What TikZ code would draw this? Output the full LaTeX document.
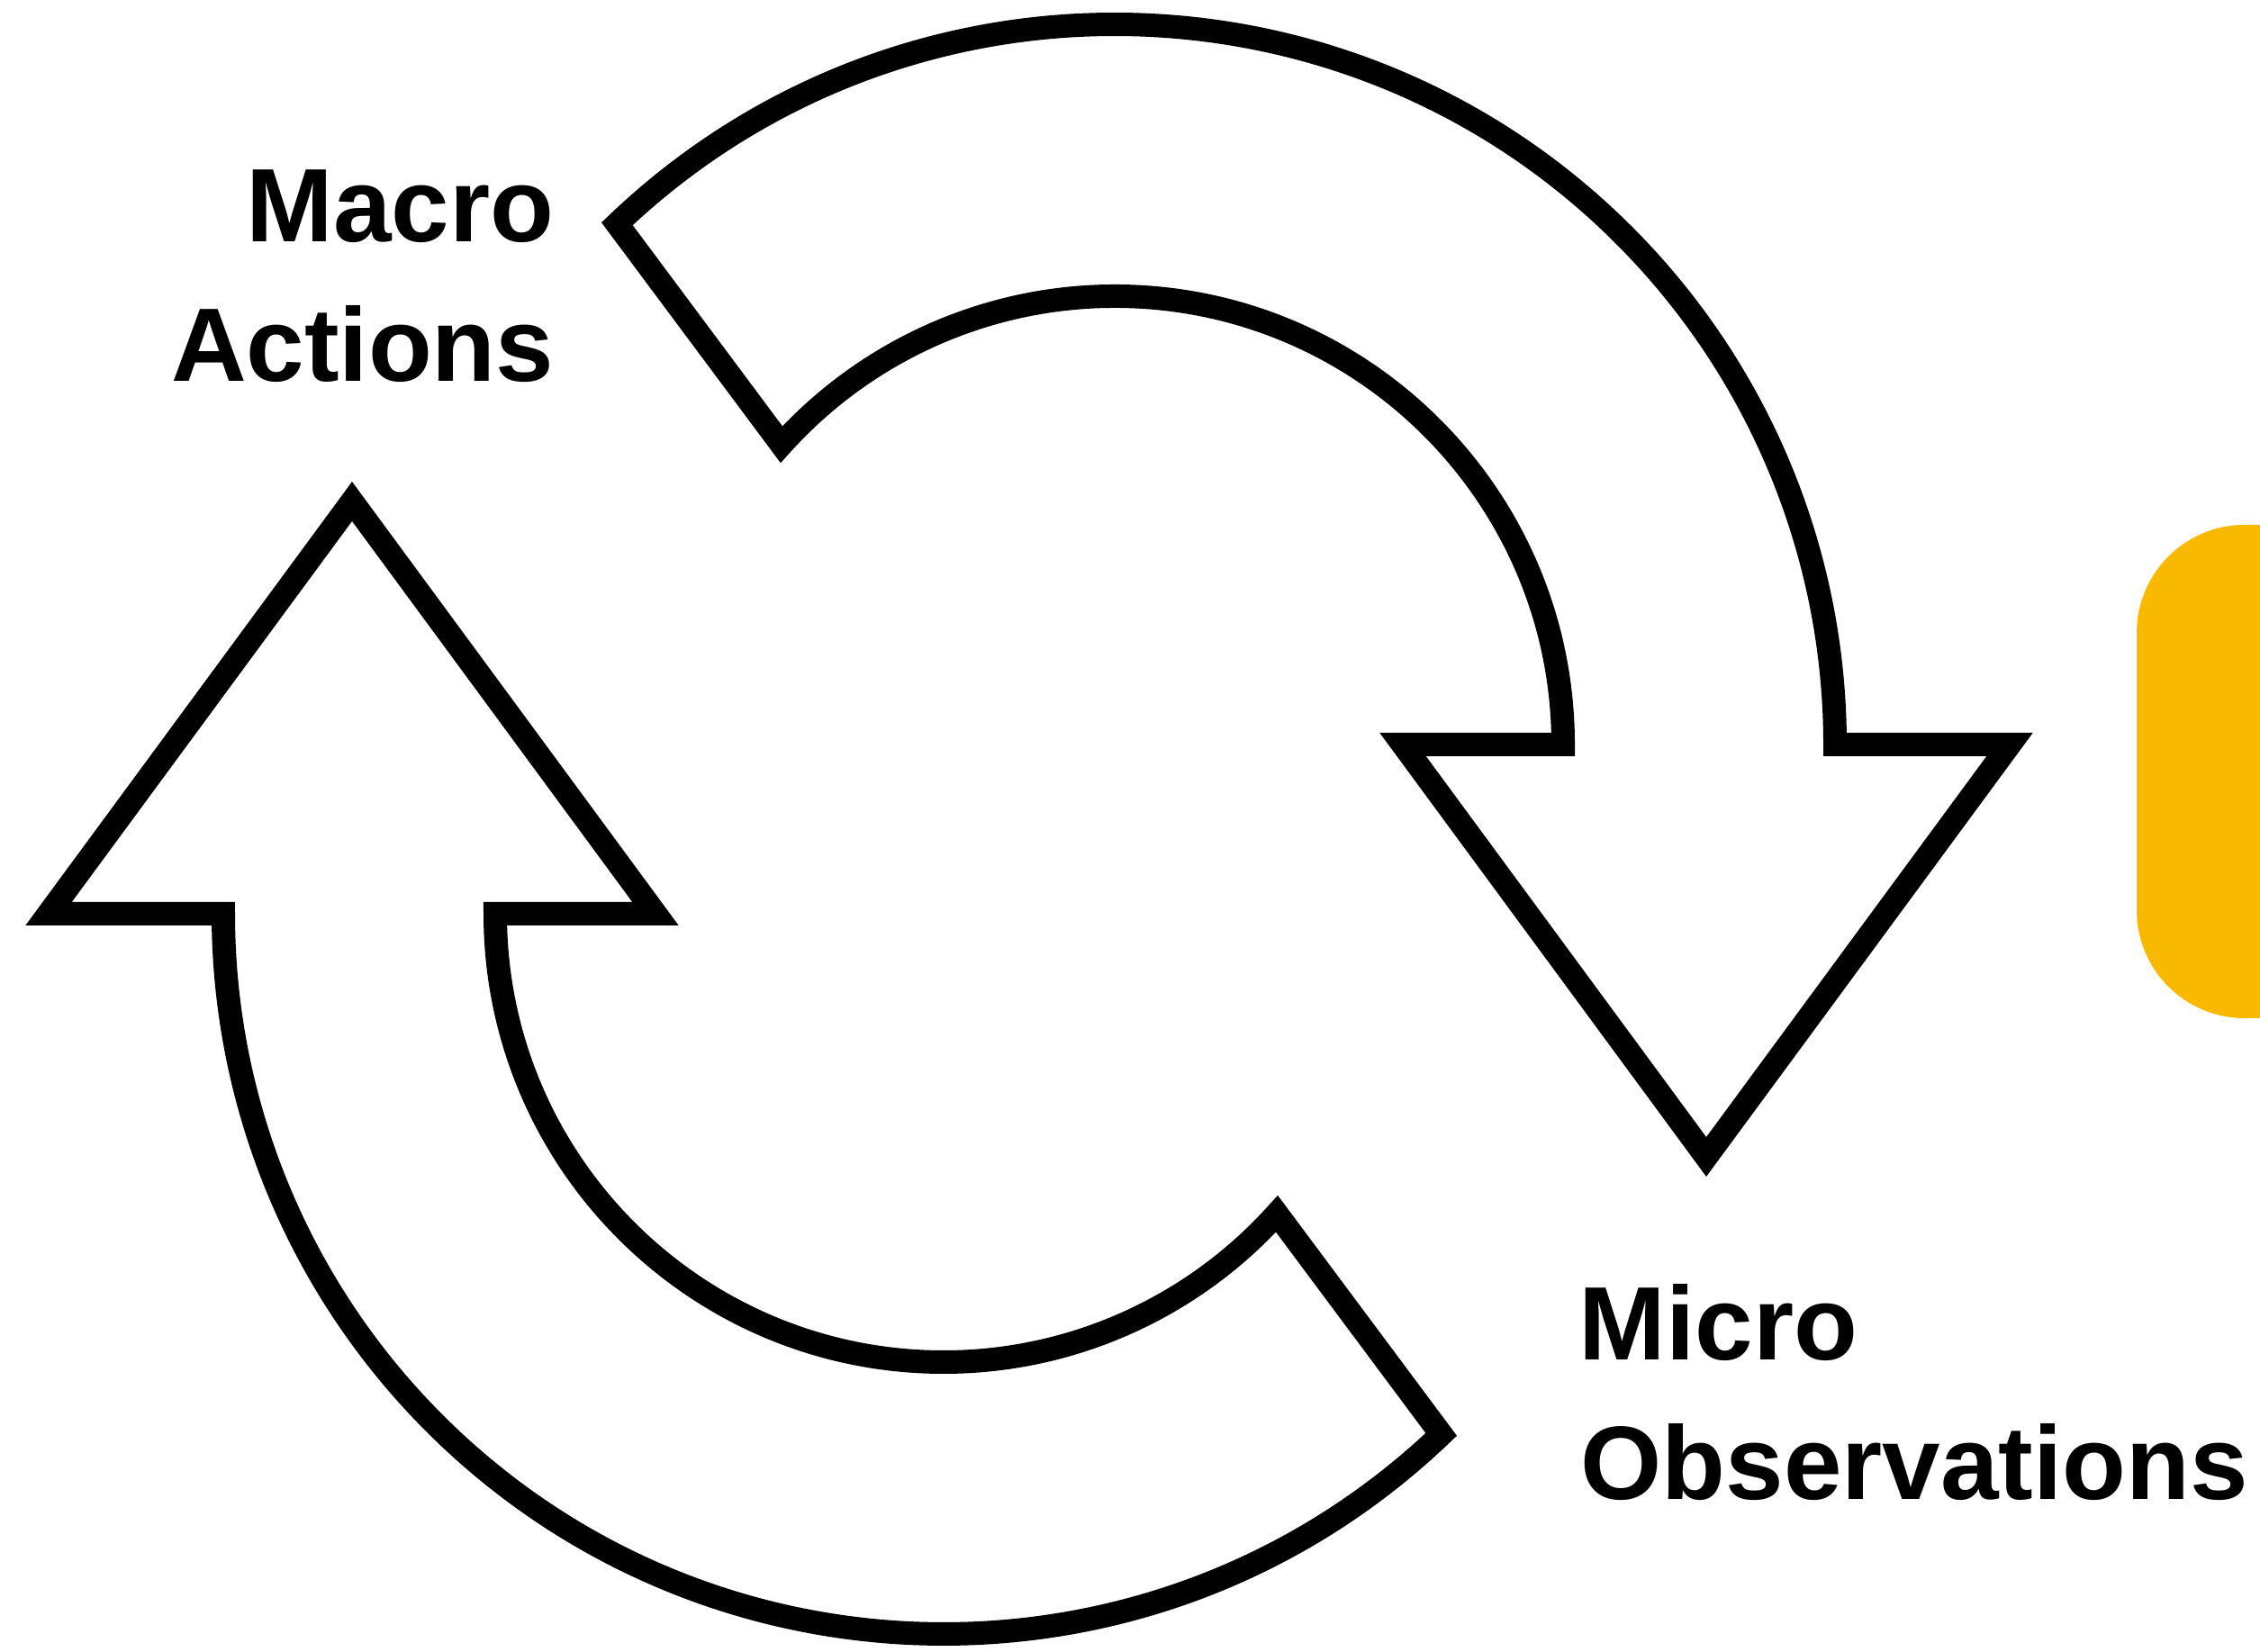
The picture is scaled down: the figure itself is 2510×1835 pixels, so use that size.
\documentclass[tikz,border=0pt]{standalone}
\usepackage{fontspec}
\setmainfont{Liberation Sans}
\usepackage{tikz}
\usetikzlibrary{positioning}
\definecolor{cyellow}{RGB}{248,185,0}

\begin{document}
\begin{tikzpicture}[
  x=0.1mm, y=0.1mm,
  lbl/.style={font=\fontsize{33}{44}\selectfont\bfseries, inner sep=0pt, text=black},
  carrow/.style={draw=black, line width=2.6mm, line join=miter, fill=white},
  cycarrow/.pic={
    \path[carrow] (133.7:800) arc[start angle=133.7, end angle=0, radius=800]
      -- (994,0) -- (657,-458) -- (320,0) -- (498,0)
      arc[start angle=0, end angle=138, radius=498] -- cycle;
  },
]
  \useasboundingbox (0,0) rectangle (2510,1835);
  \clip (0,0) rectangle (2510,1835);
  \fill[white] (0,0) rectangle (2510,1835);
  % 1. yellow panel, cut at the right edge
  \fill[cyellow, rounded corners=12mm] (2373,704) rectangle (2800,1252);
  % 2. the two cycle arrows
  \pic at (1238,1008) {cycarrow};
  \pic[rotate=180] at (1048,820) {cycarrow};
  % 3. labels
  \node[lbl, anchor=base east] (macro) at (616,1566) {Macro};
  \node[lbl, anchor=base east] (actions) at (616,1411) {Actions};
  \node[lbl, anchor=base west] (micro) at (1753,324) {Micro};
  \node[lbl, anchor=base west] (observ) at (1755,169) {Observations};
\end{tikzpicture}
\end{document}
